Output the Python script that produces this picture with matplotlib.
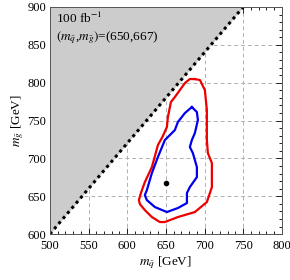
import numpy as np
import matplotlib
matplotlib.use("Agg")
import matplotlib.pyplot as plt
from matplotlib.ticker import MultipleLocator

plt.rcParams['font.family'] = ['Liberation Serif', 'DejaVu Serif']
plt.rcParams['mathtext.fontset'] = 'stix'

# kinematic boundary: m_gluino = 1.2 * m_squark
boundary_x = [500, 750]
boundary_y = [600, 900]

# best fit point
best_fit = (650, 667)

# outer (red) contour
red_x = [687.5, 694.0, 700.4, 703.0, 703.0, 704.3, 709.5, 709.5, 703.0, 687.5,
         665.5, 648.7, 642.2, 631.9, 622.8, 616.4, 615.1, 617.7, 622.8, 631.9,
         639.7, 646.1, 651.3, 652.6, 656.5, 661.6, 674.6, 681.0, 687.5]
red_y = [804.8, 803.5, 790.3, 763.9, 724.2, 707.0, 693.8, 662.1, 642.3, 629.1,
         622.5, 615.9, 615.9, 622.5, 631.7, 639.6, 644.9, 654.2, 668.7, 688.5,
         717.6, 729.5, 741.4, 754.6, 774.4, 781.0, 799.5, 804.8, 804.8]

# inner (blue) contour
blue_x = [683.6, 690.1, 691.4, 687.5, 683.6, 681.0, 684.9, 690.1, 690.1, 681.0,
          677.2, 677.2, 665.5, 651.3, 635.8, 625.4, 622.8, 625.4, 631.9, 639.7,
          648.7, 652.6, 661.6, 665.5, 674.6, 683.6]
blue_y = [767.8, 761.2, 750.7, 733.5, 724.2, 715.0, 707.0, 688.5, 675.3, 662.1,
          654.2, 641.0, 634.4, 629.1, 635.7, 644.9, 651.5, 658.1, 680.6, 701.8,
          724.2, 728.2, 737.4, 748.0, 759.9, 767.8]

fig = plt.figure(figsize=(2.9, 2.8), dpi=100)
ax = fig.add_axes([0.172, 0.164, 0.8, 0.811])

for v in [550, 600, 650, 700, 750]:
    ax.axvline(v, color='#b0b0b0', linestyle=(0, (4, 3)), linewidth=0.7, zorder=1)
for v in [650, 700, 750, 800, 850]:
    ax.axhline(v, color='#b0b0b0', linestyle=(0, (4, 3)), linewidth=0.7, zorder=1)

# excluded region above the boundary (covers the grid)
ax.fill_between(boundary_x, boundary_y, 900, color='#cccccc', linewidth=0, zorder=2)
ax.plot(boundary_x, boundary_y, color='black', linestyle=(0, (1, 1.2)), linewidth=2.2, zorder=3)

ax.plot(red_x, red_y, color='#ee0000', linewidth=1.6, zorder=4, solid_joinstyle='round')
ax.plot(blue_x, blue_y, color='#0000ee', linewidth=1.6, zorder=4, solid_joinstyle='round')
ax.plot(*best_fit, 'o', color='black', markersize=3, zorder=5)

ax.set_xlim(500, 800)
ax.set_ylim(600, 900)

ax.xaxis.set_major_locator(MultipleLocator(50))
ax.yaxis.set_major_locator(MultipleLocator(50))
ax.xaxis.set_minor_locator(MultipleLocator(10))
ax.yaxis.set_minor_locator(MultipleLocator(10))
ax.tick_params(which='both', direction='in', top=True, right=True, labelsize=9,
               width=0.6, pad=2.5)
ax.tick_params(axis='x', which='major', pad=4)
ax.tick_params(which='major', length=4)
ax.tick_params(which='minor', length=2)
for s in ax.spines.values():
    s.set_linewidth(0.7)
    s.set_color('#555555')
    s.set_zorder(6)

ax.set_xlabel(r'$m_{\tilde{q}}$ [GeV]', fontsize=9.5, labelpad=2)
ax.set_ylabel(r'$m_{\tilde{g}}$ [GeV]', fontsize=9.5, labelpad=1)

ax.text(508, 885, r'100 fb$^{-1}$', fontsize=9.5, va='center', zorder=6)
ax.text(508, 860, r'$(m_{\tilde{q}}$,$m_{\tilde{g}})$=(650,667)', fontsize=9.5, va='center', zorder=6)

fig.savefig('out.png', dpi=100)
